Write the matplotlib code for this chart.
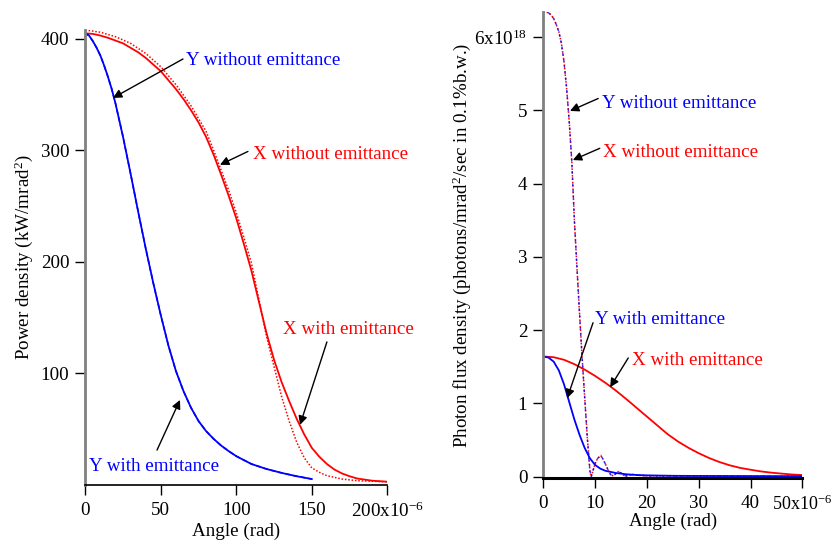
import matplotlib
matplotlib.use("Agg")
import matplotlib.pyplot as plt
from matplotlib.ticker import FixedLocator, FixedFormatter

plt.rcParams['font.family'] = ['Liberation Serif', 'DejaVu Serif']
plt.rcParams['mathtext.fontset'] = 'custom'
plt.rcParams['mathtext.rm'] = 'Liberation Serif'
plt.rcParams['mathtext.it'] = 'Liberation Serif:italic'

# ---------------- Left panel: power density (kW/mrad^2) vs angle (x1e-6 rad)
yemit_x = [0, 2.5, 5, 7.5, 10, 12.5, 15, 17.5, 20, 25, 30, 35, 40, 45, 50, 55, 60, 65,
           70, 75, 80, 85, 90, 95, 100, 110, 120, 130, 140, 150]
yemit_v = [405, 403, 398, 392, 385, 376, 366, 355, 342, 312, 279, 245, 212, 181, 152,
           125, 102, 84, 69, 57, 48, 41, 35, 30, 25.5, 18.5, 14, 10.5, 7.5, 5]
ynoemit_v = list(yemit_v)

xemit_x = [0, 5, 10, 15, 20, 25, 30, 35, 40, 45, 50, 55, 60, 65, 70, 75, 80, 85, 90,
           95, 100, 105, 110, 115, 120, 125, 130, 135, 140, 145, 150, 155, 160, 165,
           170, 175, 180, 190, 200]
xemit_v = [405, 404.5, 403, 401, 398.5, 396, 392, 388, 383, 377, 371, 363, 355, 346,
           336, 325, 312, 296, 278, 259, 239, 216, 192, 164, 136, 112, 92, 75, 59, 45,
           33, 25, 18.5, 13.5, 10, 7.5, 5.5, 3.5, 2.6]
xnoemit_x = [0, 10, 20, 30, 40, 50, 60, 70, 80, 85, 90, 95, 100, 105, 110, 115, 120,
             125, 130, 135, 140, 145, 150, 155, 160, 170, 180, 190, 200]
xnoemit_v = [408, 406, 402, 396, 387, 375, 359, 340, 317, 300, 282, 264, 244, 222, 199,
             166, 133, 106, 79, 57, 38, 24, 15, 11, 8, 5, 3.5, 3, 2.5]

left_xticks = [0, 50, 100, 150, 200]
left_xlabels = ['0', '50', '100', '150', '200x10$^{-6}$']
left_yticks = [100, 200, 300, 400]
left_ylabels = ['100', '200', '300', '400']

# ---------------- Right panel: photon flux density (x1e18) vs angle (x1e-6 rad)
noemit_x = [0, 0.5, 1.0, 1.5, 2.0, 2.5, 3.0, 3.5, 4.0, 4.5, 5.0, 5.5, 6.0, 6.5, 7.0,
            7.5, 8.0, 8.5, 9.0, 9.25, 10.0, 10.5, 11.1, 11.6, 12.2, 12.7, 13.2, 13.8,
            14.5, 15.0, 15.5, 16.0, 17.3, 18.0, 20, 25, 30, 40, 50]
noemit_v = [6.34, 6.34, 6.33, 6.30, 6.25, 6.17, 6.07, 5.91, 5.66, 5.30, 4.85, 4.30,
            3.50, 2.85, 2.22, 1.62, 1.07, 0.53, 0.08, 0.0, 0.18, 0.25, 0.29, 0.23,
            0.14, 0.06, 0.01, 0.03, 0.07, 0.05, 0.02, 0.01, 0.03, 0.02, 0.012, 0.01,
            0.008, 0.006, 0.005]

yemitR_x = [0, 1, 2, 3, 4, 5, 6, 7, 8, 9, 10, 11, 12, 14, 16, 18, 20, 25, 30, 40, 50]
yemitR_v = [1.64, 1.625, 1.57, 1.45, 1.26, 1.02, 0.78, 0.57, 0.39, 0.25, 0.16, 0.11,
            0.08, 0.05, 0.033, 0.023, 0.018, 0.012, 0.01, 0.008, 0.006]

xemitR_x = [0, 2, 4, 6, 8, 10, 12, 14, 16, 18, 20, 22, 24, 26, 28, 30, 32, 34, 36, 38,
            40, 42, 44, 46, 48, 50]
xemitR_v = [1.64, 1.63, 1.595, 1.535, 1.46, 1.375, 1.28, 1.175, 1.06, 0.94, 0.82, 0.70,
            0.58, 0.48, 0.395, 0.32, 0.255, 0.20, 0.155, 0.12, 0.095, 0.072, 0.055,
            0.042, 0.03, 0.022]

right_xticks = [0, 10, 20, 30, 40, 50]
right_xlabels = ['0', '10', '20', '30', '40', '50x10$^{-6}$']
right_yticks = [0, 1, 2, 3, 4, 5, 6]
right_ylabels = ['0', '1', '2', '3', '4', '5', '6x10$^{18}$']

BLUE = '#0000ff'
RED = '#ff0000'
FS = 13.7

W, H = 831, 542
fig = plt.figure(figsize=(W / 100, H / 100), dpi=100)


def frac(x0, y0, x1, y1):
    return [x0 / W, 1 - y1 / H, (x1 - x0) / W, (y1 - y0) / H]


def style(ax, bottom_lw):
    for s in ('top', 'right'):
        ax.spines[s].set_visible(False)
    ax.spines['left'].set_color('#808080')
    ax.spines['left'].set_linewidth(2.0)
    ax.spines['bottom'].set_color('black')
    ax.spines['bottom'].set_linewidth(bottom_lw)
    ax.tick_params(axis='both', direction='out', length=7.2, width=1.0,
                   labelsize=FS, color='black')
    ax.tick_params(axis='y', pad=4.3)
    ax.tick_params(axis='x', pad=5)


arrow = dict(arrowstyle='-|>', color='black', lw=1.0, mutation_scale=13,
             shrinkA=0, shrinkB=0)

# Left axes
ax1 = fig.add_axes(frac(85.3, 30, 387.3, 484.6))
ax1.plot(xnoemit_x, xnoemit_v, color=RED, lw=1.1, ls=(0, (1, 1.2)))
ax1.plot(xemit_x, xemit_v, color=RED, lw=1.3)
ax1.plot(yemit_x, ynoemit_v, color=BLUE, lw=1.1, ls=(0, (3, 2)))
ax1.plot(yemit_x, yemit_v, color=BLUE, lw=1.3)
ax1.set_xlim(0, 200)
ax1.set_ylim(0, 408)
ax1.xaxis.set_major_locator(FixedLocator(left_xticks))
ax1.xaxis.set_major_formatter(FixedFormatter(left_xlabels))
ax1.yaxis.set_major_locator(FixedLocator(left_yticks))
ax1.yaxis.set_major_formatter(FixedFormatter(left_ylabels))
style(ax1, 1.2)
ax1.set_xlabel('Angle (rad)', fontsize=FS)
ax1.set_ylabel('Power density (kW/mrad$^2$)', fontsize=FS)
ax1.yaxis.set_label_coords(-0.167, 0.5)
ax1.xaxis.set_label_coords(0.5, -0.083)

ax1.annotate('', xy=(18.3, 347), xytext=(64.7, 382), arrowprops=arrow)
ax1.text(66.7, 381, 'Y without emittance', color=BLUE, fontsize=FS, va='center', ha='left')
ax1.annotate('', xy=(89.2, 287), xytext=(107.7, 299), arrowprops=arrow)
ax1.text(111, 296, 'X without emittance', color=RED, fontsize=FS, va='center', ha='left')
ax1.annotate('', xy=(142.2, 53.6), xytext=(160, 128), arrowprops=arrow)
ax1.text(131, 139, 'X with emittance', color=RED, fontsize=FS, va='center', ha='left')
ax1.annotate('', xy=(62.7, 76), xytext=(47.5, 31), arrowprops=arrow)
ax1.text(2.5, 15.8, 'Y with emittance', color=BLUE, fontsize=FS, va='center', ha='left')

# Right axes
ax2 = fig.add_axes(frac(543.3, 12, 802.3, 478))
ax2.plot(noemit_x, noemit_v, color=RED, lw=1.1, ls=(0, (1, 1.2)))
ax2.plot(noemit_x, noemit_v, color=BLUE, lw=1.0, ls=(1, (2, 2.5)), alpha=0.8)
ax2.plot(xemitR_x, xemitR_v, color=RED, lw=1.3)
ax2.plot(yemitR_x, yemitR_v, color=BLUE, lw=1.3)
ax2.set_xlim(0, 50)
ax2.set_ylim(-0.018, 6.34)
ax2.xaxis.set_major_locator(FixedLocator(right_xticks))
ax2.xaxis.set_major_formatter(FixedFormatter(right_xlabels))
ax2.yaxis.set_major_locator(FixedLocator(right_yticks))
ax2.yaxis.set_major_formatter(FixedFormatter(right_ylabels))
style(ax2, 2.2)
ax2.set_xlabel('Angle (rad)', fontsize=FS)
ax2.set_ylabel('Photon flux density (photons/mrad$^2$/sec in 0.1%b.w.)', fontsize=FS)
ax2.yaxis.set_label_coords(-0.271, 0.5)
ax2.xaxis.set_label_coords(0.5, -0.075)
# keep the last tick label inside the figure
ax2.get_xticklabels()[-1].set_fontsize(13.0)

ax2.annotate('', xy=(5.15, 4.99), xytext=(10.6, 5.16), arrowprops=arrow)
ax2.text(11.3, 5.09, 'Y without emittance', color=BLUE, fontsize=FS, va='center', ha='left')
ax2.annotate('', xy=(5.7, 4.32), xytext=(10.9, 4.48), arrowprops=arrow)
ax2.text(11.5, 4.42, 'X without emittance', color=RED, fontsize=FS, va='center', ha='left')
ax2.annotate('', xy=(4.6, 1.07), xytext=(9.6, 2.1), arrowprops=arrow)
ax2.text(10.0, 2.14, 'Y with emittance', color=BLUE, fontsize=FS, va='center', ha='left')
ax2.annotate('', xy=(12.9, 1.22), xytext=(16.4, 1.62), arrowprops=arrow)
ax2.text(17.1, 1.58, 'X with emittance', color=RED, fontsize=FS, va='center', ha='left')

for ax in (ax1, ax2):
    for t in ax.texts:
        t.set_clip_on(False)

fig.savefig('out.png', dpi=100)
